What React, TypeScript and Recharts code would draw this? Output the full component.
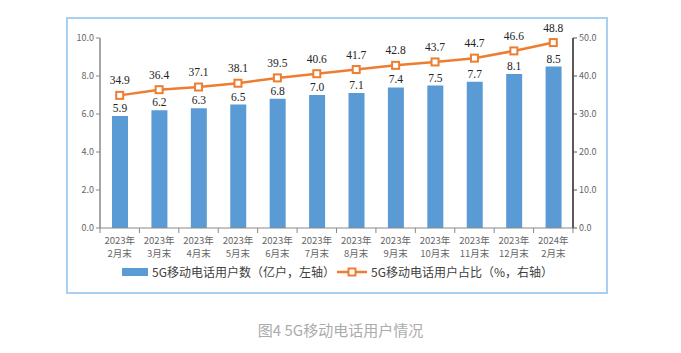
import { Bar, ComposedChart, LabelList, Legend, Line, XAxis, YAxis } from "recharts";

const years = ["2023年", "2023年", "2023年", "2023年", "2023年", "2023年", "2023年", "2023年", "2023年", "2023年", "2023年", "2024年"];
const months = ["2月末", "3月末", "4月末", "5月末", "6月末", "7月末", "8月末", "9月末", "10月末", "11月末", "12月末", "2月末"];
const users = [5.9, 6.2, 6.3, 6.5, 6.8, 7.0, 7.1, 7.4, 7.5, 7.7, 8.1, 8.5];
const share = [34.9, 36.4, 37.1, 38.1, 39.5, 40.6, 41.7, 42.8, 43.7, 44.7, 46.6, 48.8];
const leftTicks = [0, 2, 4, 6, 8, 10];
const rightTicks = [0, 10, 20, 30, 40, 50];

const barName = "5G移动电话用户数（亿户，左轴）";
const lineName = "5G移动电话用户占比（%，右轴）";

const data = users.map((u, i) => ({ name: years[i] + months[i], year: years[i], month: months[i], users: u, share: share[i] }));

const BLUE = "#5B9BD5";
const ORANGE = "#ED7D31";
const SANS = "'Noto Sans CJK SC', 'Noto Sans', sans-serif";
const SERIF = "'Liberation Serif', 'DejaVu Serif', serif";
const band = (573 - 100) / 12;

function CategoryTick(props: any) {
  const { x, y, payload, index } = props;
  const i = payload.index ?? index;
  return (
    <g>
      <line x1={x - band / 2} y1={y - 8} x2={x - band / 2} y2={y - 3} stroke="#888" strokeWidth={1} />
      {i === 11 && <line x1={x + band / 2} y1={y - 8} x2={x + band / 2} y2={y - 3} stroke="#888" strokeWidth={1} />}
      <text x={x} y={y + 8} textAnchor="middle" fontSize={9.5} fill="#666" fontFamily={SANS}>{years[i]}</text>
      <text x={x} y={y + 21} textAnchor="middle" fontSize={9.5} fill="#666" fontFamily={SANS}>{months[i]}</text>
    </g>
  );
}

function SquareDot(props: any) {
  const { cx, cy } = props;
  if (cx == null || cy == null) return null;
  return <rect x={cx - 3.5} y={cy - 3.5} width={7} height={7} fill="#fff" stroke={ORANGE} strokeWidth={2} />;
}

function renderLegend() {
  return (
    <div style={{ fontFamily: SANS, fontSize: 12, color: "#404040", height: 20 }}>
      <div style={{ position: "absolute", left: 122, top: 6, width: 26, height: 8, background: BLUE }} />
      <span style={{ position: "absolute", left: 152, top: 1 }}>{barName}</span>
      <svg style={{ position: "absolute", left: 337, top: 3 }} width={30} height={14}>
        <line x1={0} y1={7} x2={30} y2={7} stroke={ORANGE} strokeWidth={2.5} />
        <rect x={11.5} y={3.5} width={7} height={7} fill="#fff" stroke={ORANGE} strokeWidth={2} />
      </svg>
      <span style={{ position: "absolute", left: 371, top: 1 }}>{lineName}</span>
    </div>
  );
}

export default function App() {
  return (
    <div style={{ position: "absolute", left: 0, top: 0, width: 681, height: 353, background: "#fff" }}>
      <div style={{ position: "absolute", left: 66, top: 17, width: 538, height: 273, border: "2px solid #A9D0F2" }} />
      <div style={{ position: "absolute", left: 0, top: 0 }}>
        <ComposedChart width={681} height={300} data={data} margin={{ top: 38, right: 68, bottom: 36, left: 60 }}>
          <XAxis
            dataKey="name"
            xAxisId="x"
            interval={0}
            tickLine={false}
            axisLine={{ stroke: "#888", strokeWidth: 1 }}
            tick={<CategoryTick />}
            height={36}
          />
          <YAxis
            yAxisId="left"
            domain={[0, 10]}
            ticks={leftTicks}
            width={40}
            tickFormatter={(v: number) => v.toFixed(1)}
            tick={{ fontSize: 9, fill: "#666", fontFamily: SANS }}
            tickSize={4}
            axisLine={{ stroke: "#888", strokeWidth: 1.5 }}
            tickLine={{ stroke: "#888" }}
          />
          <YAxis
            yAxisId="right"
            orientation="right"
            domain={[0, 50]}
            ticks={rightTicks}
            width={40}
            tickFormatter={(v: number) => v.toFixed(1)}
            tick={{ fontSize: 9, fill: "#666", fontFamily: SANS }}
            tickSize={4}
            axisLine={{ stroke: "#595959", strokeWidth: 2 }}
            tickLine={{ stroke: "#595959" }}
          />
          <Legend verticalAlign="middle" wrapperStyle={{ top: 262, left: 0, width: 681, height: 20 }} content={renderLegend} />
          <Bar dataKey="users" name={barName} xAxisId="x" yAxisId="left" fill={BLUE} barSize={16} isAnimationActive={false}>
            <LabelList dataKey="users" position="top" offset={4} formatter={(v: any) => Number(v).toFixed(1)} style={{ fontSize: 11.5, fill: "#222", fontFamily: SERIF }} />
          </Bar>
          <Line
            dataKey="share"
            name={lineName}
            xAxisId="x"
            yAxisId="right"
            stroke={ORANGE}
            strokeWidth={2.5}
            dot={<SquareDot />}
            activeDot={false}
            isAnimationActive={false}
          >
            <LabelList dataKey="share" position="top" offset={11} formatter={(v: any) => Number(v).toFixed(1)} style={{ fontSize: 11.5, fill: "#222", fontFamily: SERIF }} />
          </Line>
        </ComposedChart>
      </div>
      <div style={{ position: "absolute", left: 0, width: 681, top: 319, textAlign: "center", fontFamily: SANS, fontSize: 15, color: "#ABABAB", whiteSpace: "pre" }}>
        {"图4 5G移动电话用户情况"}
      </div>
    </div>
  );
}
